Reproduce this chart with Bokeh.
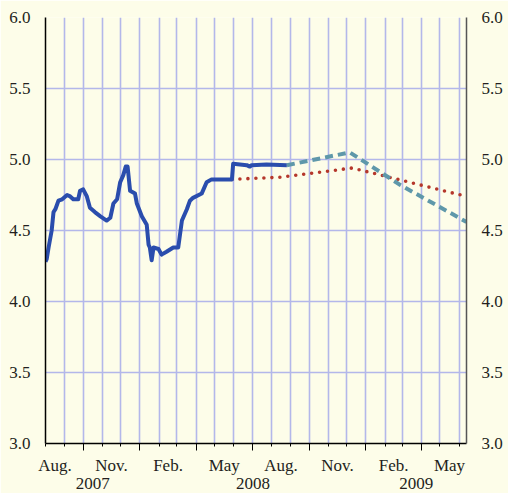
import pandas as pd
from bokeh.plotting import figure
from bokeh.models import LinearAxis, FixedTicker, Range1d, PrintfTickFormatter, CustomJSTickFormatter, Grid
from bokeh.embed import file_html
from bokeh.resources import INLINE

# ---------------- data ----------------
x_start = "2007-08-01"
x_end = "2009-06-13"

actual_dates = ["2007-08-01", "2007-08-03", "2007-08-06", "2007-08-11", "2007-08-14", "2007-08-17",
                "2007-08-22", "2007-08-28", "2007-09-05", "2007-09-10", "2007-09-15", "2007-09-23",
                "2007-09-26", "2007-10-01", "2007-10-07", "2007-10-12", "2007-10-20", "2007-10-29",
                "2007-11-08", "2007-11-14", "2007-11-19", "2007-11-25", "2007-11-30", "2007-12-05",
                "2007-12-09", "2007-12-12", "2007-12-16", "2007-12-24", "2007-12-27", "2008-01-04",
                "2008-01-12", "2008-01-15", "2008-01-17", "2008-01-20", "2008-01-23", "2008-01-31",
                "2008-02-05", "2008-02-13", "2008-02-24", "2008-03-03", "2008-03-09", "2008-03-17",
                "2008-03-22", "2008-03-27", "2008-04-10", "2008-04-18", "2008-04-26", "2008-05-29",
                "2008-05-31", "2008-06-22", "2008-06-27", "2008-06-30", "2008-07-24", "2008-08-26"]
actual_values = [4.28, 4.30, 4.38, 4.50, 4.63, 4.65,
                 4.71, 4.72, 4.75, 4.74, 4.72, 4.72,
                 4.78, 4.79, 4.74, 4.66, 4.63, 4.60,
                 4.57, 4.59, 4.69, 4.72, 4.84, 4.89,
                 4.95, 4.95, 4.78, 4.76, 4.69, 4.60,
                 4.54, 4.40, 4.38, 4.29, 4.38, 4.37,
                 4.33, 4.35, 4.38, 4.38, 4.57, 4.65,
                 4.71, 4.73, 4.76, 4.84, 4.86, 4.86,
                 4.97, 4.96, 4.95, 4.96, 4.965, 4.96]

dashed_dates = ["2008-08-26", "2008-12-06", "2009-02-26", "2009-06-13"]
dashed_values = [4.96, 5.05, 4.82, 4.56]

dotted_dates = ["2008-05-29", "2008-08-15", "2008-12-10", "2009-06-13"]
dotted_values = [4.86, 4.875, 4.94, 4.74]

month_labels = ["Aug.", "Nov.", "Feb.", "May", "Aug.", "Nov.", "Feb.", "May"]
month_label_months = ["2007-08", "2007-11", "2008-02", "2008-05", "2008-08", "2008-11", "2009-02", "2009-05"]
year_labels = ["2007", "2008", "2009"]
y_ticks = [3.0, 3.5, 4.0, 4.5, 5.0, 5.5, 6.0]

# ---------------- helpers ----------------
ORIGIN = pd.Timestamp(x_start)


def to_days(dates):
    return [float((pd.Timestamp(d) - ORIGIN).days) for d in dates]


x_max = to_days([x_end])[0]
month_starts = pd.date_range(x_start, "2009-07-01", freq="MS")
month_days = to_days(month_starts)
quarter_days = [to_days([m])[0] for m in month_starts if m.month in (1, 4, 7, 10)]
month_grid = [d for d in month_days if 0 < d <= x_max]

label_pos = []
for m in month_label_months:
    s = pd.Timestamp(m + "-01")
    e = s + pd.offsets.MonthBegin(1)
    label_pos.append(sum(to_days([s, e])) / 2.0)

year_pos = []
for y in year_labels:
    s = max(to_days([y + "-01-01"])[0], 0.0)
    e = min(to_days([str(int(y) + 1) + "-01-01"])[0], x_max)
    year_pos.append((s + e) / 2.0)

FONT = "'Liberation Serif', 'Times New Roman', serif"
TXT = "#231F20"
BG = "#FDFDE9"
GRID = "#B3B7EA"

p = figure(width=508, height=493, output_backend="svg", toolbar_location=None,
           x_range=Range1d(0, x_max), y_range=Range1d(3, 6),
           x_axis_type=None, y_axis_type=None,
           min_border_left=45, min_border_right=42, min_border_top=17, min_border_bottom=50)
p.background_fill_color = BG
p.border_fill_color = BG
p.outline_line_color = None

p.add_layout(Grid(dimension=0, ticker=FixedTicker(ticks=month_grid),
                  grid_line_color=GRID, grid_line_width=1.6), "center")
p.add_layout(Grid(dimension=1, ticker=FixedTicker(ticks=y_ticks),
                  grid_line_color=GRID, grid_line_width=1.3), "center")

blank = CustomJSTickFormatter(code="return '';")

ax_ticks = LinearAxis(ticker=FixedTicker(ticks=quarter_days, minor_ticks=month_days),
                      formatter=blank, major_label_text_font_size="0px", major_label_standoff=0,
                      axis_line_color="black", axis_line_width=1.5,
                      major_tick_line_color="black", major_tick_out=7, major_tick_in=0,
                      minor_tick_line_color="black", minor_tick_out=3, minor_tick_in=0)
p.add_layout(ax_ticks, "below")

lookup = """
let best = 0, bd = Infinity;
for (let i = 0; i < pos.length; i++) { const d = Math.abs(pos[i] - tick); if (d < bd) { bd = d; best = i; } }
return labs[best];
"""

ax_months = LinearAxis(ticker=FixedTicker(ticks=label_pos, minor_ticks=[]),
                       formatter=CustomJSTickFormatter(args=dict(pos=label_pos, labs=month_labels), code=lookup),
                       axis_line_color=None, major_tick_line_color=None, minor_tick_line_color=None,
                       major_label_standoff=-1, major_label_text_font=FONT,
                       major_label_text_font_size="17px", major_label_text_color=TXT)
p.add_layout(ax_months, "below")

ax_years = LinearAxis(ticker=FixedTicker(ticks=year_pos, minor_ticks=[]),
                      formatter=CustomJSTickFormatter(args=dict(pos=year_pos, labs=year_labels), code=lookup),
                      axis_line_color=None, major_tick_line_color=None, minor_tick_line_color=None,
                      major_label_standoff=-6, major_label_text_font=FONT,
                      major_label_text_font_size="17px", major_label_text_color=TXT)
p.add_layout(ax_years, "below")

for side, lc in (("left", "black"), ("right", "#555555")):
    ax = LinearAxis(ticker=FixedTicker(ticks=y_ticks, minor_ticks=[]),
                    formatter=PrintfTickFormatter(format="%.1f"),
                    axis_line_color=lc, axis_line_width=1.5,
                    major_tick_line_color=None, minor_tick_line_color=None,
                    major_label_standoff=9, major_label_text_font=FONT,
                    major_label_text_font_size="17px", major_label_text_color=TXT)
    p.add_layout(ax, side)

p.line(to_days(dotted_dates), dotted_values, line_color="#B5372B", line_width=3.6,
       line_dash="0 8", line_cap="round")
p.line(to_days(actual_dates), actual_values, line_color="#2A4DAD", line_width=4,
       line_join="round")
p.line(to_days(dashed_dates), dashed_values, line_color="#5F98AA", line_width=4,
       line_dash="8 5")

open("out.html", "w").write(file_html(p, INLINE))
